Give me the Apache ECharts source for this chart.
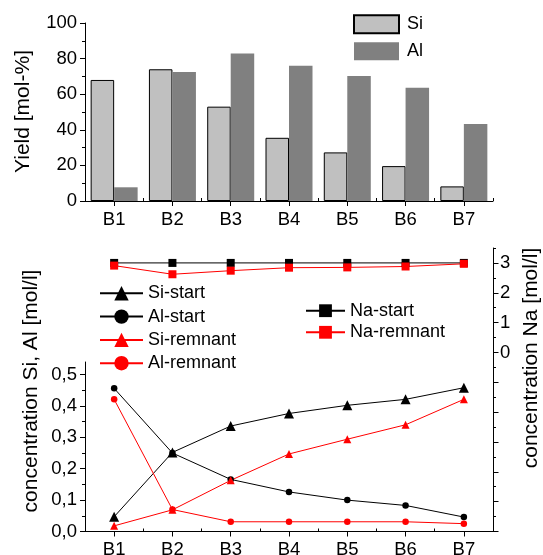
<!DOCTYPE html>
<html><head><meta charset="utf-8">
<script src="https://cdn.jsdelivr.net/npm/echarts@6/dist/echarts.min.js"></script>
<style>html,body{margin:0;padding:0;background:#fff}#c{width:543px;height:555px}</style>
</head><body><div id="c"></div>
<script>
const categories = ['B1','B2','B3','B4','B5','B6','B7'];
const yieldSi = [68, 74, 53, 35.5, 27.3, 19.6, 8.2];
const yieldAl = [7.7, 72.5, 82.8, 76, 70.2, 63.6, 43.2];
const siStart = [0.047, 0.252, 0.336, 0.376, 0.402, 0.421, 0.458];
const alStart = [0.456, 0.250, 0.166, 0.126, 0.100, 0.083, 0.046];
const siRemnant = [0.018, 0.069, 0.163, 0.247, 0.294, 0.340, 0.421];
const alRemnant = [0.421, 0.070, 0.031, 0.031, 0.031, 0.031, 0.025];
const naStart = [3, 3, 3, 3, 3, 3, 3];
const naRemnant = [2.91, 2.62, 2.74, 2.84, 2.85, 2.88, 2.97];
const yieldTicks = [0, 20, 40, 60, 80, 100];
const concTicks = [0, 0.1, 0.2, 0.3, 0.4, 0.5];
const concMinorTicks = [0.05, 0.15, 0.25, 0.35, 0.45];
const naLabelTicks = [0, 1, 2, 3];
const naMajorTicks = [-6, -5, -4, -3, -2, -1, 0, 1, 2, 3];
const naMinorTicks = [-5.5, -4.5, -3.5, -2.5, -1.5, -0.5, 0.5, 1.5, 2.5, 3.5];

const FONT = 'Liberation Sans';
const txt = {color: '#000', fontSize: 18.5, fontFamily: FONT};
const legTxt = {color: '#000', fontSize: 18, fontFamily: FONT};
const blackLine = {show: true, onZero: false, lineStyle: {color: '#000', width: 1}};
const tickStyle = {color: '#000', width: 1};
const titleFont = '21px "Liberation Sans"';

function catAxis(grid, main, show) {
  return {
    type: 'category', gridIndex: grid, data: categories, boundaryGap: true, show: show !== false,
    axisLine: main ? blackLine : {show: false},
    axisTick: main ? {show: true, alignWithLabel: true, length: 5, lineStyle: tickStyle}
                   : {show: true, alignWithLabel: false, length: 3, lineStyle: tickStyle},
    axisLabel: main ? Object.assign({show: true, margin: 9}, txt) : {show: false},
    splitLine: {show: false}
  };
}
function titleText(x, y, s) {
  return {type: 'text', x: x, y: y, rotation: Math.PI / 2,
    style: {text: s, font: titleFont, fill: '#000',
      textAlign: 'center', textVerticalAlign: 'middle', align: 'center', verticalAlign: 'middle'}};
}

const option = {
  animation: false,
  backgroundColor: '#fff',
  grid: [
    {left: 85, right: 50, top: 23, bottom: 354, outerBoundsMode: 'none', containLabel: false},
    {left: 85, right: 50, top: 248, bottom: 23.5, outerBoundsMode: 'none', containLabel: false},
    {left: 85, right: 50, top: 362, bottom: 23.5, outerBoundsMode: 'none', containLabel: false}
  ],
  xAxis: [
    catAxis(0, true),
    catAxis(0, false),
    catAxis(1, true, false),
    catAxis(2, true),
    catAxis(2, false)
  ],
  yAxis: [
    {type: 'value', gridIndex: 0, min: 0, max: 100, interval: 20,
     axisLine: blackLine,
     axisTick: {show: true, length: 5, lineStyle: tickStyle},
     minorTick: {show: true, splitNumber: 2, length: 3, lineStyle: tickStyle},
     axisLabel: Object.assign({margin: 8}, txt),
     splitLine: {show: false}, minorSplitLine: {show: false}},
    {type: 'value', gridIndex: 1, position: 'right', min: -6, max: 3.5, interval: 1,
     axisLine: blackLine,
     axisTick: {show: true, length: 5.5, customValues: naMajorTicks, lineStyle: tickStyle},
     axisLabel: Object.assign({margin: 7, customValues: naLabelTicks}, txt),
     splitLine: {show: false}},
    {type: 'value', gridIndex: 1, position: 'right', min: -6, max: 3.5, interval: 0.5,
     axisLine: {show: false},
     axisTick: {show: true, length: 3, customValues: naMinorTicks, lineStyle: tickStyle},
     axisLabel: {show: false}, splitLine: {show: false}},
    {type: 'value', gridIndex: 2, position: 'left', min: 0, max: 0.54, interval: 0.1,
     axisLine: blackLine,
     axisTick: {show: true, length: 5, customValues: concTicks, lineStyle: tickStyle},
     axisLabel: Object.assign({margin: 8, customValues: concTicks,
       formatter: v => v.toFixed(1).replace('.', ',')}, txt),
     splitLine: {show: false}},
    {type: 'value', gridIndex: 2, position: 'left', min: 0, max: 0.54, interval: 0.05,
     axisLine: {show: false},
     axisTick: {show: true, length: 3, customValues: concMinorTicks, lineStyle: tickStyle},
     axisLabel: {show: false}, splitLine: {show: false}}
  ],
  legend: [
    {data: ['Si', 'Al'], orient: 'vertical', left: 353, top: 14.3, padding: 0,
     itemWidth: 45, itemHeight: 18, itemGap: 8, icon: 'rect',
     textStyle: Object.assign({padding: [0, 0, 0, 3]}, legTxt)},
    {data: ['Si-start', 'Al-start', 'Si-remnant', 'Al-remnant'], orient: 'vertical', left: 99, top: 284.3, padding: 0,
     itemWidth: 43, itemHeight: 18, itemGap: 5.3, textStyle: legTxt},
    {data: ['Na-start', 'Na-remnant'], orient: 'vertical', left: 305, top: 301.7, padding: 0,
     itemWidth: 39, itemHeight: 16, itemGap: 3.6, textStyle: legTxt}
  ],
  graphic: [
    titleText(23, 111.5, 'Yield [mol-%]'),
    titleText(31, 391, 'concentration Si, Al [mol/l]'),
    titleText(531, 358, 'concentration Na [mol/l]')
  ],
  series: [
    {name: 'Si', type: 'bar', xAxisIndex: 0, yAxisIndex: 0, data: yieldSi, barWidth: 23.5, barGap: '0%',
     itemStyle: {color: '#c0c0c0', borderColor: '#000', borderWidth: 1}},
    {name: 'Al', type: 'bar', xAxisIndex: 0, yAxisIndex: 0, data: yieldAl, barWidth: 23.5, barGap: '0%',
     itemStyle: {color: '#808080', borderWidth: 0}},
    {name: 'Na-start', type: 'line', xAxisIndex: 2, yAxisIndex: 1, data: naStart,
     symbol: 'rect', symbolSize: 8, itemStyle: {color: '#000'}, lineStyle: {color: '#000', width: 1}},
    {name: 'Na-remnant', type: 'line', xAxisIndex: 2, yAxisIndex: 1, data: naRemnant,
     symbol: 'rect', symbolSize: 8, itemStyle: {color: '#ff0000'}, lineStyle: {color: '#ff0000', width: 1}},
    {name: 'Si-start', type: 'line', xAxisIndex: 3, yAxisIndex: 3, data: siStart,
     symbol: 'triangle', symbolSize: 10, itemStyle: {color: '#000'}, lineStyle: {color: '#000', width: 1}},
    {name: 'Al-start', type: 'line', xAxisIndex: 3, yAxisIndex: 3, data: alStart,
     symbol: 'circle', symbolSize: 6.5, itemStyle: {color: '#000'}, lineStyle: {color: '#000', width: 1}},
    {name: 'Si-remnant', type: 'line', xAxisIndex: 3, yAxisIndex: 3, data: siRemnant,
     symbol: 'triangle', symbolSize: 8, itemStyle: {color: '#ff0000'}, lineStyle: {color: '#ff0000', width: 1}},
    {name: 'Al-remnant', type: 'line', xAxisIndex: 3, yAxisIndex: 3, data: alRemnant,
     symbol: 'circle', symbolSize: 6.5, itemStyle: {color: '#ff0000'}, lineStyle: {color: '#ff0000', width: 1}}
  ]
};
const chart = echarts.init(document.getElementById('c'), null, {renderer: 'canvas'});
chart.setOption(option);
</script></body></html>
